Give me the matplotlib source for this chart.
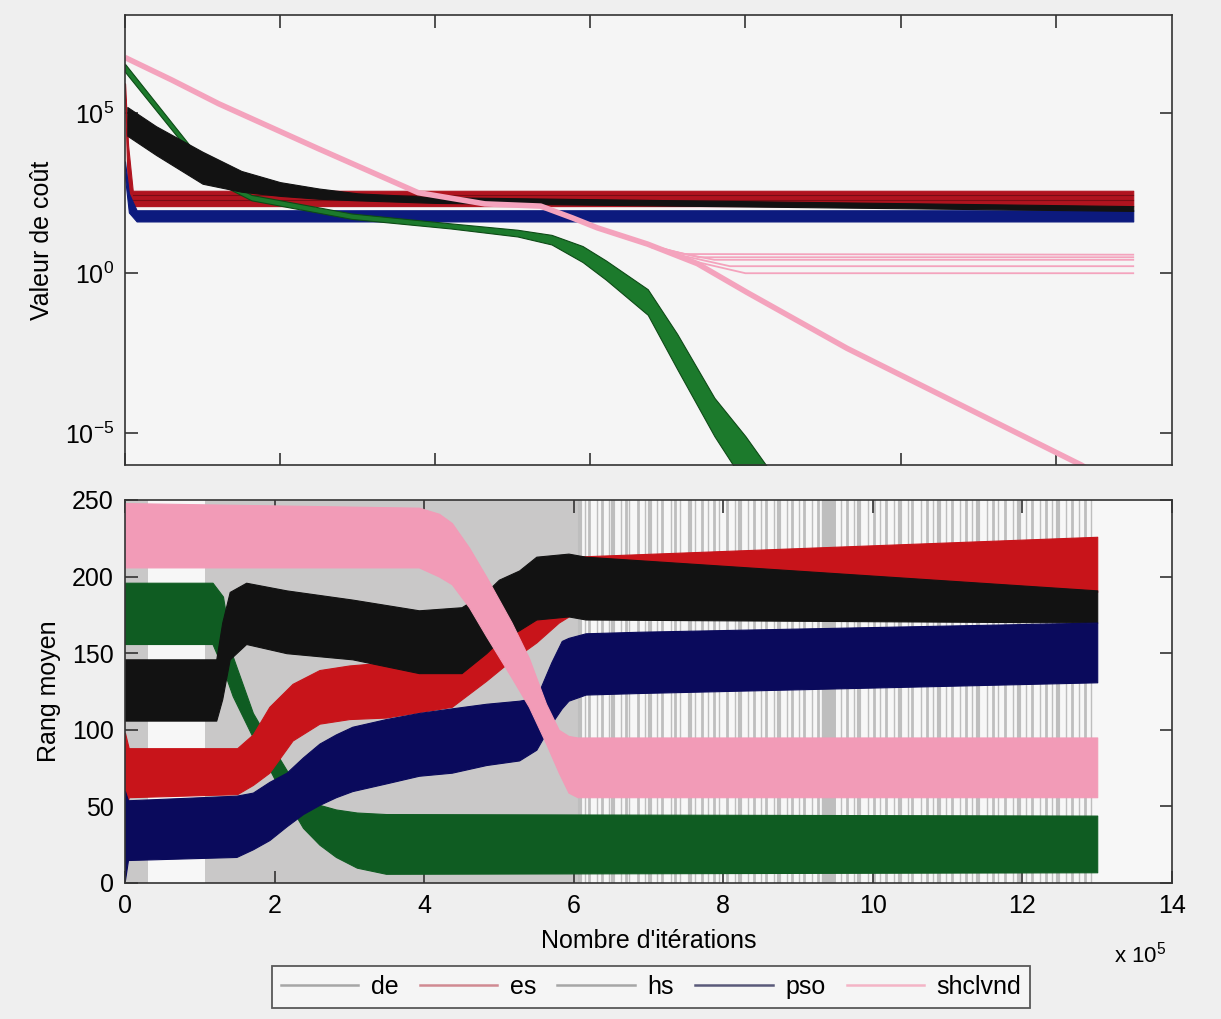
import numpy as np
import matplotlib
matplotlib.use("Agg")
import matplotlib.pyplot as plt
from matplotlib.lines import Line2D

plt.rcParams['font.family'] = ['Liberation Sans', 'DejaVu Sans']
plt.rcParams['mathtext.fontset'] = 'custom'
plt.rcParams['mathtext.rm'] = 'Liberation Sans'
plt.rcParams['mathtext.it'] = 'Liberation Sans:italic'
plt.rcParams['mathtext.default'] = 'regular'

# ---------------- data (x in units of 1e5 iterations) ----------------
algos = ['de', 'es', 'hs', 'pso', 'shclvnd']

# Top panel: cost (log10 exponents)
pink_top_x = [0, 0.6, 1.21, 2.49, 3.78, 4.64, 5.36, 5.77, 6.09, 6.74, 7.38, 8.02, 9.31, 12.33, 12.6]
pink_top_log = [6.75, 6.05, 5.3, 3.9, 2.52, 2.17, 2.10, 1.73, 1.42, 0.91, 0.3, -0.6, -2.35, -6.0, -6.4]
pink_plateau_x = [[6.6, 7.2, 13.0], [6.7, 7.4, 13.0], [6.8, 7.6, 13.0], [7.0, 7.8, 13.0], [7.2, 8.0, 13.0]]
pink_plateau_log = [[1.0, 0.6, 0.58], [0.9, 0.5, 0.5], [0.8, 0.42, 0.42], [0.65, 0.22, 0.22], [0.45, 0.0, 0.0]]

green_top_x = [0, 1.13, 1.63, 2.92, 4.2, 5.06, 5.5, 5.9, 6.2, 6.74, 7.12, 7.6, 8.0, 8.5]
green_top_hi = [6.55, 3.1, 2.45, 1.87, 1.56, 1.36, 1.2, 0.85, 0.4, -0.5, -1.9, -3.9, -5.1, -6.8]
green_top_lo = [6.30, 2.9, 2.28, 1.70, 1.40, 1.15, 0.9, 0.35, -0.2, -1.3, -3.0, -5.1, -6.6, -8.0]

black_top_x = [0.03, 0.4, 1.0, 1.5, 2.0, 2.5, 3.0, 4.0, 13.0]
black_top_hi = [5.2, 4.6, 3.8, 3.2, 2.85, 2.65, 2.5, 2.38, 2.1]
black_top_lo = [4.3, 3.7, 2.8, 2.55, 2.42, 2.33, 2.28, 2.2, 1.95]

red_top_x = [0, 0.04, 0.1, 13.0]
red_top_hi = [5.94, 4.0, 2.58, 2.58]
red_top_lo = [5.5, 2.3, 2.1, 2.1]

blue_top_x = [0, 0.05, 0.15, 13.0]
blue_top_hi = [3.5, 2.5, 1.97, 1.97]
blue_top_lo = [3.0, 1.9, 1.62, 1.62]

# Bottom panel: mean rank bands
green_x = [0, 1.17, 1.31, 1.44, 1.71, 2.02, 2.38, 2.6, 2.82, 3.1, 3.49, 13.0]
green_hi = [196, 196, 187, 148, 111, 85, 56, 51, 48, 46, 45, 44]
green_lo = [156, 156, 140, 122, 95, 66, 36, 25, 17, 10, 6, 7]

red_x = [0, 0.05, 1.5, 1.71, 1.93, 2.24, 2.6, 3.0, 3.49, 4.37, 4.83, 5.13, 5.5, 5.8, 6.0, 13.0]
red_hi = [98, 88, 88, 97, 115, 130, 139, 142, 144, 152, 156, 165, 190, 210, 213, 226]
red_lo = [45, 56, 58, 64, 72, 93, 104, 107, 108, 115, 132, 144, 157, 170, 176, 190]

black_x = [0, 1.22, 1.3, 1.4, 1.62, 2.16, 3.04, 3.93, 4.5, 4.83, 5.0, 5.27, 5.5, 5.93, 6.16, 13.0]
black_hi = [146, 146, 170, 190, 196, 191, 185, 178, 180, 190, 198, 204, 213, 215, 213, 191]
black_lo = [106, 106, 120, 146, 156, 150, 146, 137, 137, 150, 158, 165, 172, 174, 172, 170]

blue_x = [0, 0.04, 1.49, 1.71, 1.93, 2.16, 2.38, 2.6, 2.82, 3.04, 3.49, 3.93, 4.37, 4.83, 5.27, 5.5,
          5.7, 5.84, 5.93, 6.16, 6.87, 13.0]
blue_hi = [60, 54, 57, 59, 66, 72, 82, 91, 97, 102, 107, 111, 114, 117, 119, 121, 144, 158, 160, 163, 164, 170]
blue_lo = [2, 15, 17, 22, 28, 37, 45, 51, 56, 60, 65, 70, 72, 77, 80, 87, 104, 114, 119, 123, 124, 131]

pink_x = [0, 3.93, 4.2, 4.37, 4.6, 4.83, 5.17, 5.4, 5.63, 5.8, 5.93, 6.05, 13.0]
pink_hi = [248, 245, 241, 235, 219, 200, 170, 147, 117, 100, 96, 95, 95]
pink_lo = [206, 206, 200, 195, 180, 161, 134, 115, 91, 72, 59, 56, 56]

gray_spans = [(0.0, 0.31), (1.07, 6.06)]
barcode_x = [6.08, 6.15, 6.20, 6.31, 6.38, 6.47, 6.52, 6.63, 6.70, 6.74, 6.86, 6.95, 7.02, 7.12,
             7.18, 7.30, 7.36, 7.42, 7.55, 7.62, 7.71, 7.80, 7.88, 7.94, 8.05, 8.16, 8.22, 8.33,
             8.41, 8.50, 8.57, 8.68, 8.74, 8.85, 8.92, 9.01, 9.08, 9.19, 9.27, 9.38, 9.46, 9.58,
             9.66, 9.75, 9.82, 9.93, 10.01, 10.10, 10.17, 10.28, 10.36, 10.47, 10.53, 10.64,
             10.72, 10.80, 10.89, 10.98, 11.06, 11.17, 11.24, 11.33, 11.41, 11.52, 11.60, 11.68,
             11.77, 11.88, 11.95, 12.05, 12.13, 12.24, 12.31, 12.40, 12.48, 12.58, 12.66, 12.75,
             12.83, 12.92]
barcode_w = [3, 1, 2, 1, 2, 1, 3, 1, 2, 1, 2, 1, 3, 1, 2, 1, 2, 1, 3, 1, 2, 1, 2, 1, 2, 1, 3, 1,
             2, 1, 2, 1, 3, 1, 2, 1, 2, 1, 2, 6, 5, 1, 2, 1, 3, 1, 2, 1, 2, 1, 3, 1, 2, 1,
             2, 1, 3, 1, 2, 1, 2, 1, 3, 1, 2, 1, 2, 1, 3, 1, 2, 1, 2, 1, 3, 1, 2, 1, 2, 1]

legend_colors = ['#a6a6a6', '#d08a92', '#a6a6a6', '#5a5a7a', '#f4b4c6']

# colours
C_PINK = '#f29bb7'
C_RED = '#c8141a'
C_BLACK = '#121212'
C_BLUE = '#0a0a5c'
C_GREEN = '#0f5c22'
C_GRAY = '#c9c8c8'

C_TPINK = '#f4a3bd'
C_TGREEN = '#1c7a2c'
C_TRED = '#b0141f'
C_TBLUE = '#0c1a7e'

FS = 18

fig = plt.figure(figsize=(12.21, 10.19), dpi=100, facecolor='#efefef')
ax1 = fig.add_axes([125/1221, 1-465/1019, 1047/1221, 450/1019], facecolor='#f5f5f5')
ax2 = fig.add_axes([125/1221, 1-883/1019, 1047/1221, 383/1019], facecolor='#f7f7f7')

# ---------------- top panel ----------------
def p10(v):
    return np.power(10.0, np.asarray(v, dtype=float))

ax1.fill_between(red_top_x, p10(red_top_lo), p10(red_top_hi), color=C_TRED, lw=0.8, zorder=2)
for lv in (2.45, 2.3):
    ax1.plot([0.1, 13.0], [10**lv, 10**lv], color='#7a0c14', lw=0.8, zorder=2.1)
ax1.fill_between(blue_top_x, p10(blue_top_lo), p10(blue_top_hi), color=C_TBLUE, lw=0.8, zorder=2.2)
ax1.fill_between(green_top_x, p10(green_top_lo), p10(green_top_hi), color=C_TGREEN, lw=0.8,
                 edgecolor='#0d4a16', zorder=2.4)
ax1.fill_between(black_top_x, p10(black_top_lo), p10(black_top_hi), color=C_BLACK, lw=0.8, zorder=2.6)
for px_, pl_ in zip(pink_plateau_x, pink_plateau_log):
    ax1.plot(px_, p10(pl_), color=C_TPINK, lw=1.3, zorder=2.8)
ax1.plot(pink_top_x, p10(pink_top_log), color=C_TPINK, lw=4.0, zorder=2.9, solid_capstyle='butt',
         solid_joinstyle='round')

ax1.set_yscale('log')
ax1.set_ylim(1e-6, 1.2e8)
ax1.set_xlim(0, 13.5)
ax1.set_yticks([1e-5, 1, 1e5])
ax1.set_yticklabels([r'$10^{-5}$', r'$10^{0}$', r'$10^{5}$'])
ax1.yaxis.set_minor_locator(matplotlib.ticker.NullLocator())
ax1.set_xticks([0, 2, 4, 6, 8, 10, 12])
ax1.set_xticklabels([])
ax1.set_ylabel('Valeur de coût', fontsize=FS, labelpad=8)

# ---------------- bottom panel ----------------
for a, b in gray_spans:
    ax2.axvspan(a, b, color=C_GRAY, lw=0, zorder=0.5)
for bx, bw in zip(barcode_x, barcode_w):
    ax2.axvline(bx, color='#bebebe', lw=bw, zorder=0.6)

ax2.fill_between(green_x, green_lo, green_hi, color=C_GREEN, lw=0.8, zorder=2)
ax2.fill_between(red_x, red_lo, red_hi, color=C_RED, lw=0.8, zorder=2.2)
ax2.fill_between(black_x, black_lo, black_hi, color=C_BLACK, lw=0.8, zorder=2.4)
ax2.fill_between(blue_x, blue_lo, blue_hi, color=C_BLUE, lw=0.8, zorder=2.6)
ax2.fill_between(pink_x, pink_lo, pink_hi, color=C_PINK, lw=0.8, zorder=2.8)

ax2.set_xlim(0, 14)
ax2.set_ylim(0, 250)
ax2.set_xticks([0, 2, 4, 6, 8, 10, 12, 14])
ax2.set_yticks([0, 50, 100, 150, 200, 250])
ax2.set_xlabel("Nombre d'itérations", fontsize=FS, labelpad=8)
ax2.set_ylabel('Rang moyen', fontsize=FS, labelpad=8)

for ax in (ax1, ax2):
    ax.tick_params(direction='in', top=True, right=True, length=9, width=1.2,
                   labelsize=FS, color='#333333', pad=8)
    for s in ax.spines.values():
        s.set_color('#333333')
        s.set_linewidth(1.2)
        s.set_zorder(5)

fig.text(1140/1221, 1-955/1019, r'x $10^{5}$', fontsize=FS-2, ha='center', va='center')

handles = [Line2D([], [], color=c, lw=1.8) for c in legend_colors]
leg = fig.legend(handles, algos, loc='center', bbox_to_anchor=(651/1221, 1-987/1019), ncol=5,
                 fontsize=FS, frameon=True, fancybox=False, edgecolor='#333333',
                 handlelength=3.1, handletextpad=0.5, columnspacing=0.85,
                 borderpad=0.35, borderaxespad=0)
leg.get_frame().set_linewidth(1.3)
leg.get_frame().set_facecolor('#f7f7f7')

fig.savefig('out.png', dpi=100, facecolor=fig.get_facecolor())
